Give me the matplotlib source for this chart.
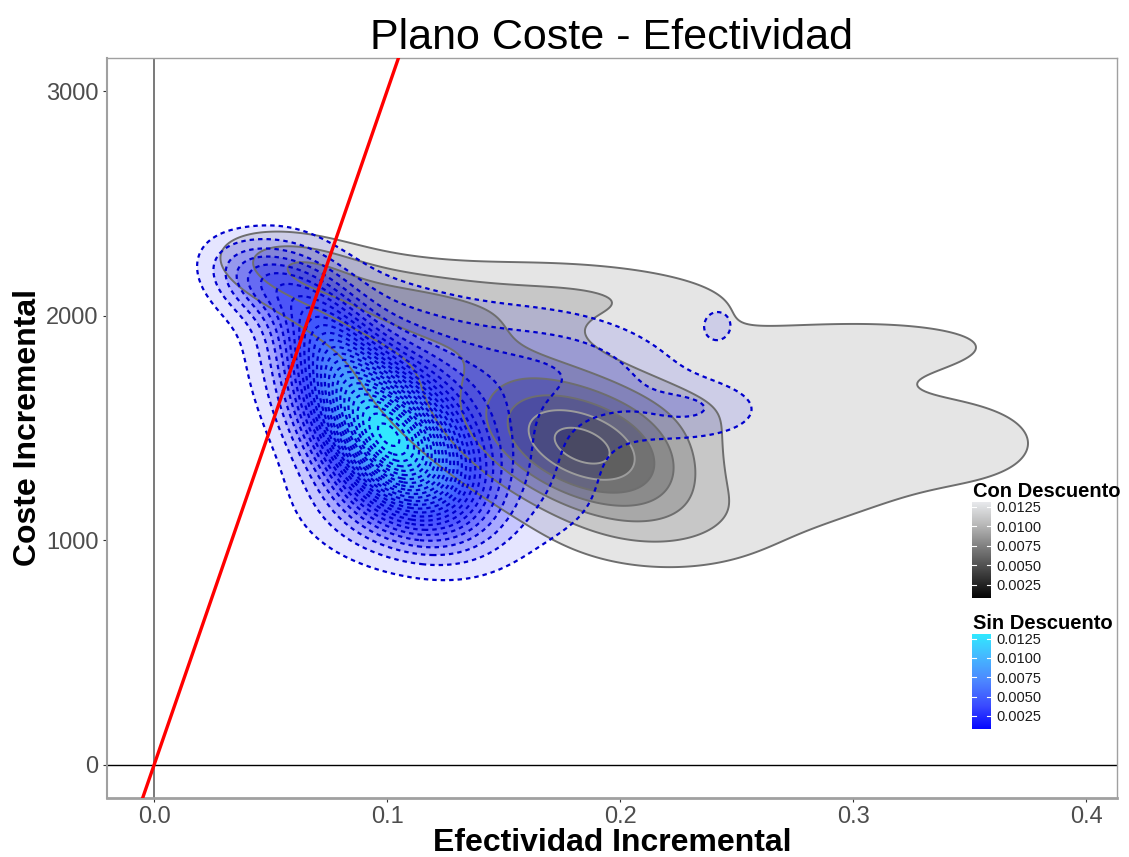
import numpy as np
import matplotlib
matplotlib.use("Agg")
import matplotlib.pyplot as plt
from matplotlib.colors import LinearSegmentedColormap

plt.rcParams['font.family'] = ['Liberation Sans', 'DejaVu Sans']
plt.rcParams['lines.dashed_pattern'] = [2.0, 1.8]

# nubes de simulaciones (componentes)
# Con Descuento
con_ef = [0.185, 0.10, 0.28, 0.35, 0.315, 0.22, 0.17, 0.19, 0.30, 0.06]
con_coste = [1390, 2060, 1630, 1420, 1870, 1000, 1600, 2090, 1250, 2230]
con_sd_ef = [0.03, 0.04, 0.045, 0.028, 0.04, 0.04, 0.06, 0.05, 0.03, 0.02]
con_sd_coste = [200, 160, 160, 150, 90, 140, 330, 120, 140, 100]
con_rho = [-0.4, -0.6, -0.1, 0.0, 0.0, 0.0, -0.5, -0.2, 0.5, -0.3]
con_peso = [0.0898, 0.0354, 0.027, 0.0172, 0.0158, 0.0141, 0.14, 0.0296, 0.0137, 0.0096]

# Sin Descuento
sin_ef = [0.102, 0.075, 0.12, 0.045, 0.18, 0.235, 0.242, 0.095]
sin_coste = [1440, 1870, 1600, 2160, 1760, 1580, 1958, 1120]
sin_sd_ef = [0.022, 0.016, 0.04, 0.015, 0.035, 0.02, 0.005, 0.025]
sin_sd_coste = [230, 230, 330, 120, 190, 90, 55, 170]
sin_rho = [-0.45, -0.5, -0.55, -0.3, -0.3, 0.0, 0.0, -0.2]
sin_peso = [0.318, 0.076, 0.152, 0.0215, 0.048, 0.0079, 0.0014, 0.026]

niveles = np.arange(0.0005, 0.0136, 0.0005)
umbral = 30000  # disposicion a pagar


def densidad(X, Y, mx, my, sx, sy, rho, w):
    Z = np.zeros_like(X)
    for a, b, c, d, r, p in zip(mx, my, sx, sy, rho, w):
        zx = (X - a) / c
        zy = (Y - b) / d
        q = (zx**2 - 2 * r * zx * zy + zy**2) / (1 - r**2)
        Z += p / (2 * np.pi * c * d * np.sqrt(1 - r**2)) * np.exp(-q / 2)
    return Z


xs = np.linspace(-0.02, 0.42, 500)
ys = np.linspace(-150, 3150, 500)
X, Y = np.meshgrid(xs, ys)
Z_con = densidad(X, Y, con_ef, con_coste, con_sd_ef, con_sd_coste, con_rho, con_peso)
Z_sin = densidad(X, Y, sin_ef, sin_coste, sin_sd_ef, sin_sd_coste, sin_rho, sin_peso)

cm_gris = LinearSegmentedColormap.from_list('gris', ['#000000', '#3b3b3b', '#777777', '#b9b9b9', '#eef0f3'])
cm_azul = LinearSegmentedColormap.from_list('azul', ['#0000ff', '#3a4aff', '#4d86ff', '#45b9ff', '#2ef0ff'])
lmin, lmax = 0.0005, 0.0135

fig = plt.figure(figsize=(11.29, 8.57), dpi=100)
ax = fig.add_axes([107 / 1129, 1 - 798 / 857, 1010 / 1129, 740 / 857])


def capas(Z, cmap, estilo):
    for i, lev in enumerate(niveles):
        if lev >= Z.max():
            break
        t = min(1.0, (lev - lmin) / (lmax - lmin))
        ax.contourf(X, Y, Z, levels=[lev, Z.max() * 2], colors=[cmap(t)],
                    alpha=min(1.0, 0.1 + 0.9 * t), antialiased=True)
        if estilo == 'gris':
            col = '#6e6e6e' if i < 5 else '#9c9c9c'
            ax.contour(X, Y, Z, levels=[lev], colors=[col], linewidths=1.4)
        else:
            ax.contour(X, Y, Z, levels=[lev], colors=['#0000cd'], linewidths=1.6,
                       linestyles='dashed')


capas(Z_con, cm_gris, 'gris')
capas(Z_sin, cm_azul, 'azul')

ax.axvline(0, color='#555555', lw=1.1, zorder=1)
ax.axhline(0, color='black', lw=1.0, zorder=1)
ax.axline((0, 0), slope=umbral, color='red', lw=2.4, zorder=5)

ax.set_xlim(-0.0202, 0.4133)
ax.set_ylim(-147, 3147)
ax.set_xticks([0.0, 0.1, 0.2, 0.3, 0.4])
ax.set_xticklabels(['0.0', '0.1', '0.2', '0.3', '0.4'])
ax.set_yticks([0, 1000, 2000, 3000])
ax.tick_params(labelsize=17, labelcolor='#4d4d4d', color='#333333', length=3, width=0.8, pad=3)
for s in ax.spines.values():
    s.set_color('#a0a0a0')
    s.set_linewidth(1.0)
ax.spines['left'].set_linewidth(1.5)
ax.spines['bottom'].set_linewidth(2.0)

ax.set_title('Plano Coste - Efectividad', fontsize=31, pad=6)
ax.set_xlabel('Efectividad Incremental', fontsize=23, fontweight='bold', labelpad=0)
ax.set_ylabel('Coste Incremental', fontsize=23, fontweight='bold', labelpad=2)


# leyendas (barras de color)
def barra(y_top, y_bot, cmap, titulo, y_titulo):
    cax = fig.add_axes([972 / 1129, 1 - y_bot / 857, 19 / 1129, (y_bot - y_top) / 857])
    v0, v1 = 0.0008, 0.0131
    grad = np.linspace(v0, v1, 200).reshape(-1, 1)
    cax.imshow(grad, cmap=cmap, vmin=lmin, vmax=lmax, origin='lower', aspect='auto',
               extent=[0, 1, v0, v1])
    marcas = [0.0025, 0.0050, 0.0075, 0.0100, 0.0125]
    for m in marcas:
        cax.plot([0, 0.2], [m, m], color='white', lw=0.8)
        cax.plot([0.8, 1], [m, m], color='white', lw=0.8)
    cax.set_xlim(0, 1)
    cax.set_ylim(v0, v1)
    cax.set_xticks([])
    cax.set_yticks(marcas)
    cax.set_yticklabels(['%.4f' % m for m in marcas])
    cax.yaxis.tick_right()
    cax.tick_params(length=0, pad=4, labelsize=10.5, labelcolor='#1a1a1a')
    for s in cax.spines.values():
        s.set_visible(False)
    fig.text(973 / 1129, 1 - y_titulo / 857, titulo, fontsize=14.5, fontweight='bold',
             va='baseline', ha='left')


barra(502, 598, cm_gris, 'Con Descuento', 497)
barra(634, 729, cm_azul, 'Sin Descuento', 629)

fig.savefig('out.png', dpi=100)
